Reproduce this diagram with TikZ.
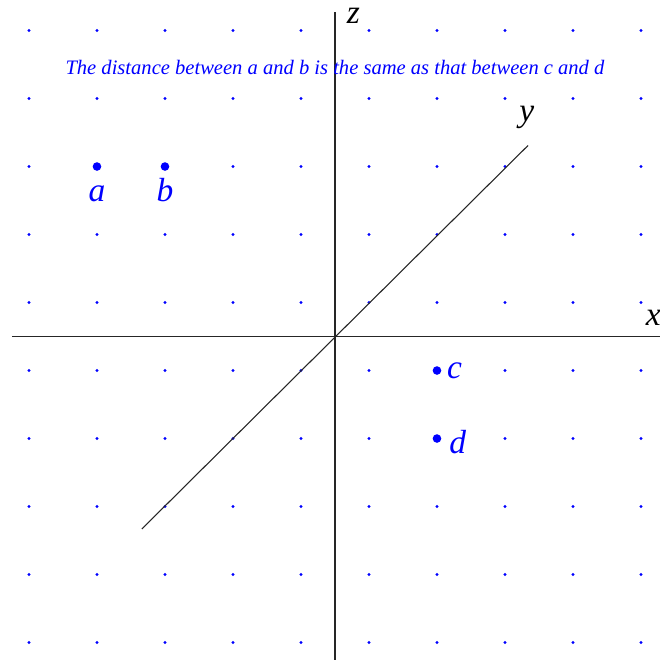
\documentclass[tikz,border=0pt]{standalone}
\usepackage{fontspec}
\setmainfont{Liberation Serif}
\usepackage{tikz}
\usetikzlibrary{positioning}

\begin{document}
\begin{tikzpicture}[
  x=1cm,y=1cm,
  gdot/.style={circle,fill=blue,inner sep=0pt,minimum size=1.4pt},
  pt/.style={circle,fill=blue,inner sep=0pt,minimum size=3.6pt},
  lab/.style={text=blue,font=\fontsize{14}{16}\selectfont\itshape,inner sep=1pt},
  axislab/.style={font=\fontsize{14}{16}\selectfont\itshape,inner sep=0pt},
  axis/.style={draw=black!85,line width=0.45pt}
]
\clip (-4.926,-4.757) rectangle (4.779,4.949);
% grid of dots
\foreach \gx in {-4.5,-3.5,...,4.5}
  \foreach \gy in {-4.5,-3.5,...,4.5}
    \node[gdot] at (\gx,\gy) {};
% axes
\coordinate (o) at (0,0);
\coordinate (xl) at (-4.75,0);
\coordinate (xr) at (4.8,0);
\coordinate (zb) at (0,-4.8);
\coordinate (zt) at (0,4.77);
\coordinate (yb) at (-2.84,-2.83);
\coordinate (yt) at (2.84,2.81);
\draw[axis] (xl)--(xr);
\draw[axis] (zb)--(zt);
\draw[axis] (yb)--(yt);
\node[axislab] (xlab) at (4.68,0.27) {x};
\node[axislab] (ylab) at (2.82,3.22) {y};
\node[axislab] (zlab) at (0.27,4.71) {z};
% points
\node[pt] (a) at (-3.5,2.5) {};
\node[pt] (b) at (-2.5,2.5) {};
\node[pt] (c) at (1.5,-0.5) {};
\node[pt] (d) at (1.5,-1.5) {};
\node[lab,below=0.45cm of a,anchor=base] (alab) {a};
\node[lab,below=0.45cm of b,anchor=base] (blab) {b};
\node[lab,right=1pt of c] (clab) {c};
\node[lab,right=2pt of d,yshift=-1.5pt] (dlab) {d};
\node[text=blue,font=\fontsize{8.6}{10.5}\selectfont\itshape] (title) at (0,3.96)
  {The distance between a and b is the same as that between c and d};
\end{tikzpicture}
\end{document}
